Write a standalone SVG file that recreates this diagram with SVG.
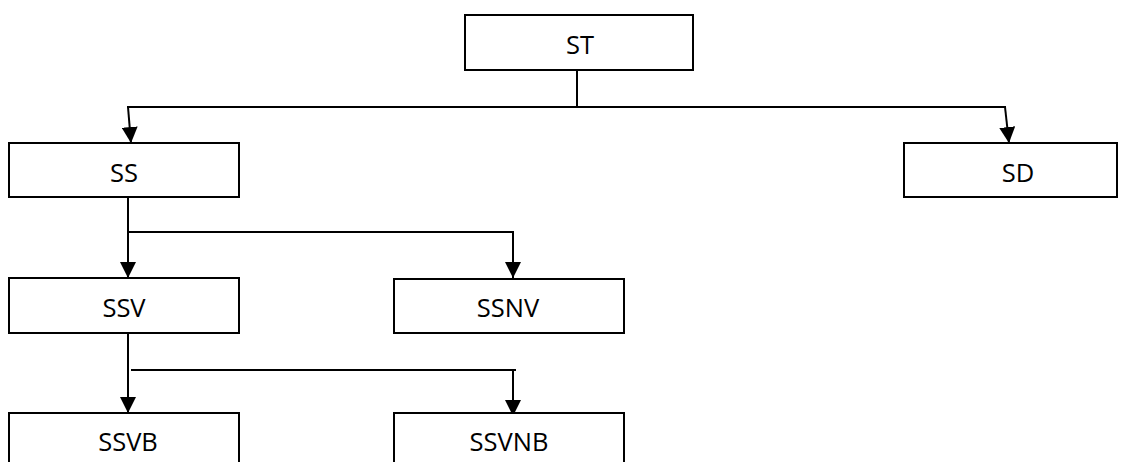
<svg xmlns="http://www.w3.org/2000/svg" width="1122" height="462" viewBox="0 0 1122 462">
  <style>
    .box { fill: #ffffff; stroke: #000000; stroke-width: 2; }
    .lbl { font-family: "Open Sans", "Liberation Sans", sans-serif; font-size: 25.5px; fill: #000000; text-anchor: middle; }
    .wire { fill: none; stroke: #000000; stroke-width: 2; }
    .arrow { fill: none; stroke: #000000; stroke-width: 2; marker-end: url(#head); }
  </style>
  <defs>
    <marker id="head" markerUnits="userSpaceOnUse" viewBox="0 0 16 16" refX="16" refY="8" markerWidth="16" markerHeight="16" orient="auto">
      <path d="M0,0 L16,8 L0,16 Z" fill="#000000"/>
    </marker>
  </defs>
  <rect width="1122" height="462" fill="#ffffff"/>

  <g id="connectors">
    <!-- ST to SS / SD -->
    <polyline class="wire" points="577,70 577,107"/>
    <polyline class="wire" points="127,107 1006,107"/>
    <line class="arrow" x1="128" y1="107" x2="131" y2="143"/>
    <line class="arrow" x1="1005" y1="107" x2="1009" y2="143"/>
    <!-- SS to SSV / SSNV -->
    <line class="arrow" x1="128" y1="197" x2="128" y2="278"/>
    <polyline class="arrow" points="128,232 513,232 513,278"/>
    <!-- SSV to SSVB / SSVNB -->
    <line class="arrow" x1="128" y1="333" x2="128" y2="413"/>
    <polyline class="wire" points="131,370 516,370"/>
    <line class="arrow" x1="513" y1="370" x2="513" y2="416"/>
  </g>

  <g id="node-st">
    <rect class="box" x="465" y="15" width="228" height="55"/>
    <text class="lbl" x="580" y="54">ST</text>
  </g>
  <g id="node-ss">
    <rect class="box" x="9" y="143" width="230" height="54"/>
    <text class="lbl" x="124" y="182">SS</text>
  </g>
  <g id="node-sd">
    <rect class="box" x="904" y="143" width="213" height="54"/>
    <text class="lbl" x="1018" y="182">SD</text>
  </g>
  <g id="node-ssv">
    <rect class="box" x="9" y="278" width="230" height="55"/>
    <text class="lbl" x="124" y="317">SSV</text>
  </g>
  <g id="node-ssnv">
    <rect class="box" x="394" y="279" width="230" height="54"/>
    <text class="lbl" x="508" y="317">SSNV</text>
  </g>
  <g id="node-ssvb">
    <rect class="box" x="9" y="413" width="230" height="60"/>
    <text class="lbl" x="128" y="451">SSVB</text>
  </g>
  <g id="node-ssvnb">
    <rect class="box" x="394" y="413" width="230" height="60"/>
    <text class="lbl" x="509" y="451">SSVNB</text>
  </g>
</svg>
